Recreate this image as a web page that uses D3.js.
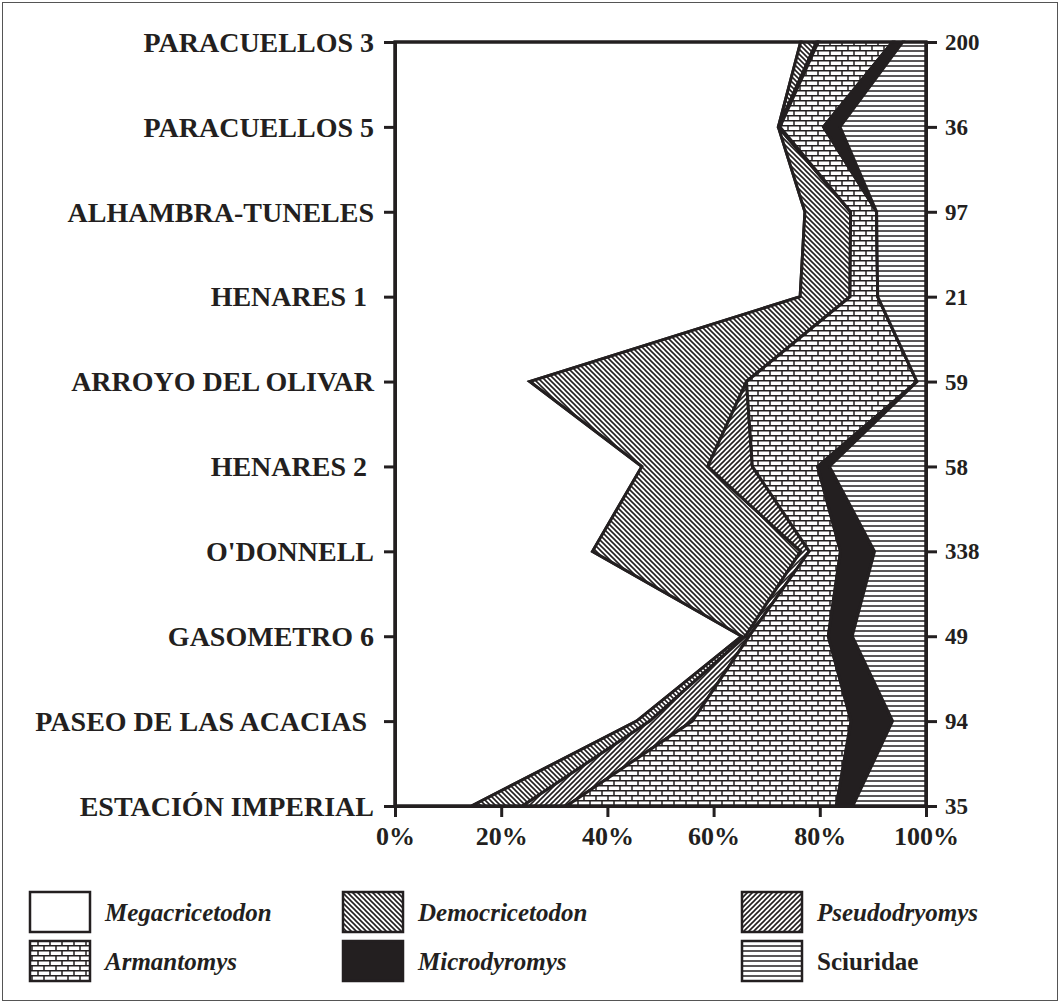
<!DOCTYPE html>
<html>
<head>
<meta charset="utf-8">
<script src="https://cdn.jsdelivr.net/npm/d3@7"></script>
<style>
  body { margin: 0; background: #fff; }
  svg text { font-family: "Liberation Serif", "Times New Roman", serif; font-weight: bold; fill: #231f20; }
</style>
</head>
<body>
<svg id="chart" width="1060" height="1003"></svg>
<script>
// localities, top to bottom, with the number of specimens on the right axis
const localities = ['PARACUELLOS 3', 'PARACUELLOS 5', 'ALHAMBRA-TUNELES', 'HENARES 1 ', 'ARROYO DEL OLIVAR',
  'HENARES 2 ', "O'DONNELL", 'GASOMETRO 6', 'PASEO DE LAS ACACIAS ', 'ESTACIÓN IMPERIAL'];
const sampleSizes = [200, 36, 97, 21, 59, 58, 338, 49, 94, 35];

// percentages per taxon, same order as localities
const megacricetodon = [76.4, 72.2, 77.2, 76.3, 25.4, 46.5, 37.2, 65.3, 45.5, 14.4];
const democricetodon = [3.0, 0.0, 8.6, 9.4, 40.8, 12.4, 39.2, 0.7, 2.5, 9.6];
const pseudodryomys = [0.3, 0.3, 0.0, 0.0, 0.0, 8.4, 1.6, 0.7, 8.0, 8.3];
const armantomys = [14.0, 8.2, 4.9, 5.2, 32.1, 12.3, 5.9, 14.9, 29.9, 50.8];
const microdyromys = [1.9, 3.1, 0.0, 0.0, 0.0, 2.2, 6.4, 4.5, 7.8, 3.1];
const sciuridae = [4.4, 16.2, 9.3, 9.1, 1.7, 18.2, 9.7, 13.9, 6.3, 13.8];

const taxa = ['Megacricetodon', 'Democricetodon', 'Pseudodryomys', 'Armantomys', 'Microdyromys', 'Sciuridae'];
const xTicks = [0, 20, 40, 60, 80, 100];

const series = [megacricetodon, democricetodon, pseudodryomys, armantomys, microdyromys, sciuridae];
const rows = localities.map((loc, i) => {
  const r = { locality: loc };
  taxa.forEach((t, j) => r[t] = series[j][i]);
  return r;
});

const svg = d3.select('#chart');
const ink = '#231f20';

// fill patterns
const defs = svg.append('defs');
function hatch(id, dir) {
  const p = defs.append('pattern').attr('id', id).attr('patternUnits', 'userSpaceOnUse')
    .attr('width', 5).attr('height', 5);
  p.append('rect').attr('width', 5).attr('height', 5).attr('fill', '#fff');
  const d = dir > 0 ? 'M-1,6 L6,-1 M-1,1 L1,-1 M4,6 L6,4' : 'M-1,-1 L6,6 M-1,4 L1,6 M4,-1 L6,1';
  p.append('path').attr('d', d).attr('stroke', ink).attr('stroke-width', 1.6);
}
hatch('demo', -1);
hatch('pseudo', 1);

const brick = defs.append('pattern').attr('id', 'brick').attr('patternUnits', 'userSpaceOnUse')
  .attr('width', 12).attr('height', 10);
brick.append('rect').attr('width', 12).attr('height', 10).attr('fill', '#fff');
brick.append('path')
  .attr('d', 'M0,0.7 H12 M0,5.7 H12 M2,0 V5 M8,5 V10')
  .attr('stroke', ink).attr('stroke-width', 1.5);

const lines = defs.append('pattern').attr('id', 'lines').attr('patternUnits', 'userSpaceOnUse')
  .attr('width', 10).attr('height', 5);
lines.append('rect').attr('width', 10).attr('height', 5).attr('fill', '#fff');
lines.append('path').attr('d', 'M0,1 H10').attr('stroke', ink).attr('stroke-width', 1.5);

const fills = {
  Megacricetodon: '#fff',
  Democricetodon: 'url(#demo)',
  Pseudodryomys: 'url(#pseudo)',
  Armantomys: 'url(#brick)',
  Microdyromys: ink,
  Sciuridae: 'url(#lines)'
};

const x = d3.scaleLinear().domain([0, 100]).range([395, 926]);
const y = d3.scalePoint().domain(localities).range([42, 806]);

const stacked = d3.stack().keys(taxa)(rows);
const area = d3.area()
  .y(d => y(d.data.locality))
  .x0(d => x(d[0]))
  .x1(d => x(d[1]));

svg.append('g')
  .selectAll('path')
  .data(stacked)
  .join('path')
  .attr('d', area)
  .attr('fill', d => fills[d.key])
  .attr('stroke', ink)
  .attr('stroke-width', 3)
  .attr('stroke-linejoin', 'miter');

// frame of the plot
svg.append('rect')
  .attr('x', x(0)).attr('y', y(localities[0]))
  .attr('width', x(100) - x(0)).attr('height', y(localities[localities.length - 1]) - y(localities[0]))
  .attr('fill', 'none').attr('stroke', ink).attr('stroke-width', 3);

const left = svg.append('g').attr('transform', `translate(${x(0)},0)`)
  .call(d3.axisLeft(y).tickSize(11).tickPadding(10));
const right = svg.append('g').attr('transform', `translate(${x(100)},0)`)
  .call(d3.axisRight(y).tickSize(11).tickPadding(8).tickFormat((d, i) => sampleSizes[i]));
const bottom = svg.append('g').attr('transform', `translate(0,${y(localities[localities.length - 1])})`)
  .call(d3.axisBottom(x).tickValues(xTicks).tickSize(11).tickPadding(10).tickFormat(d => d + '%'));

[left, right, bottom].forEach(g => {
  g.select('.domain').attr('stroke', ink).attr('stroke-width', 3);
  g.selectAll('.tick line').attr('stroke', ink).attr('stroke-width', 3);
  g.selectAll('.tick text').style('white-space', 'pre')
    .attr('font-family', '"Liberation Serif", serif').attr('font-weight', 'bold').attr('fill', ink);
});
left.selectAll('.tick text').attr('font-size', 28).attr('dy', '0.33em');
right.selectAll('.tick text').attr('font-size', 23).attr('dy', '0.33em');
bottom.selectAll('.tick text').attr('font-size', 26);

// legend
const legendCols = [30, 343, 742];
const legendRows = [892, 941];
const legend = svg.append('g');
taxa.forEach((t, i) => {
  const cx = legendCols[i % 3], cy = legendRows[Math.floor(i / 3)];
  legend.append('rect').attr('x', cx).attr('y', cy).attr('width', 60).attr('height', 40)
    .attr('fill', fills[t]).attr('stroke', ink).attr('stroke-width', 2.5);
  legend.append('text').attr('x', cx + 75).attr('y', cy + 29)
    .attr('font-size', 25).attr('font-style', t === 'Sciuridae' ? 'normal' : 'italic')
    .text(t);
});

// outer border
svg.append('rect').attr('x', 2.5).attr('y', 2.5).attr('width', 1055).attr('height', 998)
  .attr('fill', 'none').attr('stroke', '#555').attr('stroke-width', 1);
</script>
</body>
</html>
